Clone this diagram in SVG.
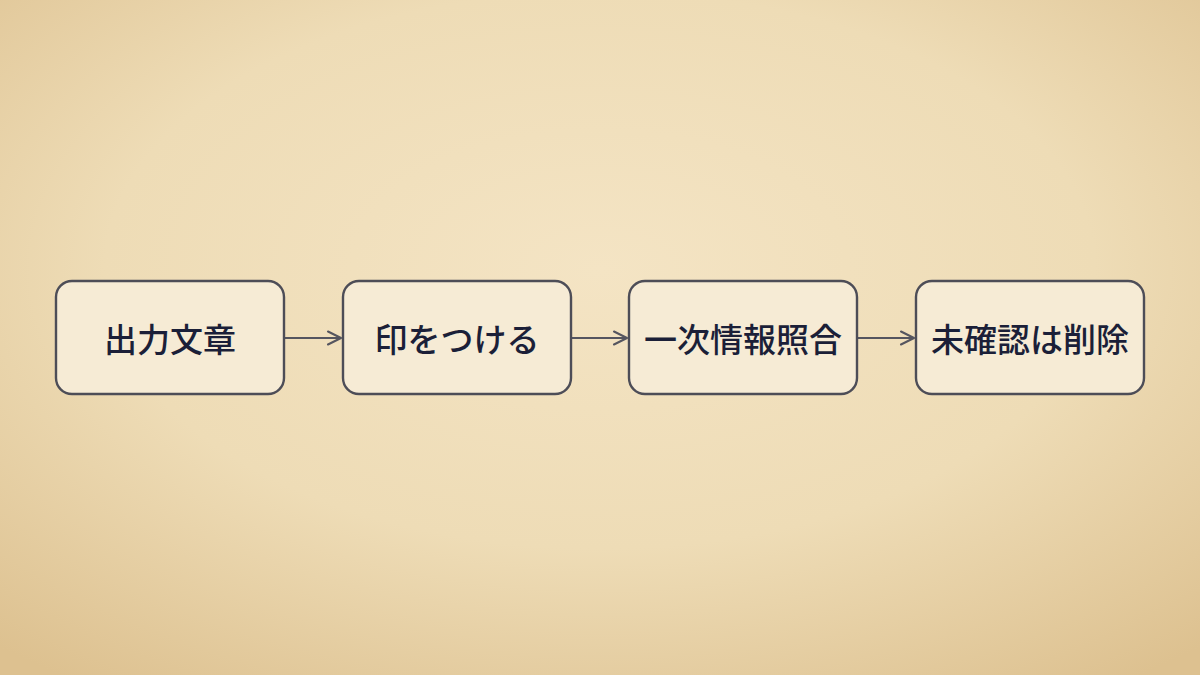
<svg xmlns="http://www.w3.org/2000/svg" width="1200" height="675" viewBox="0 0 1200 675">
<defs>
<radialGradient id="bg" cx="50%" cy="40%" r="75%">
<stop offset="0" stop-color="#f4e4c4"/>
<stop offset="0.55" stop-color="#eedcb6"/>
<stop offset="1" stop-color="#ddc190"/>
</radialGradient>
<marker id="arr" viewBox="0 0 16 16" refX="15" refY="8" markerWidth="16" markerHeight="16" markerUnits="userSpaceOnUse" orient="auto">
<path d="M2 1.5 L15 8 L2 14.5" fill="none" stroke="#55555f" stroke-width="2" stroke-linecap="round" stroke-linejoin="round"/>
</marker>
<style>
.box{fill:#f6ebd5;stroke:#4d4d57;stroke-width:2.4}
.lbl{font-family:"Noto Sans CJK JP","Noto Sans",sans-serif;font-size:33px;font-weight:500;fill:#1b1f38;text-anchor:middle;dominant-baseline:central}
.con{stroke:#55555f;stroke-width:2;fill:none}
</style>
</defs>
<rect width="1200" height="675" fill="url(#bg)"/>
<g id="connectors">
<line class="con" x1="285" y1="338" x2="341" y2="338" marker-end="url(#arr)"/>
<line class="con" x1="572" y1="338" x2="627" y2="338" marker-end="url(#arr)"/>
<line class="con" x1="858" y1="338" x2="914" y2="338" marker-end="url(#arr)"/>
</g>
<g id="n1"><rect class="box" x="56" y="281" width="228" height="113" rx="16"/><text class="lbl" x="170" y="338">出力文章</text></g>
<g id="n2"><rect class="box" x="343" y="281" width="228" height="113" rx="16"/><text class="lbl" x="457" y="338">印をつける</text></g>
<g id="n3"><rect class="box" x="629" y="281" width="228" height="113" rx="16"/><text class="lbl" x="743" y="338">一次情報照合</text></g>
<g id="n4"><rect class="box" x="916" y="281" width="228" height="113" rx="16"/><text class="lbl" x="1030" y="338">未確認は削除</text></g>
</svg>
